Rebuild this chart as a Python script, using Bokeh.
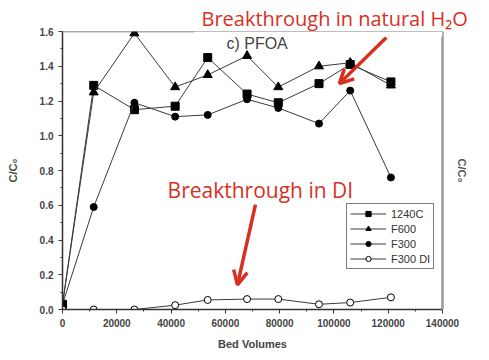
from bokeh.plotting import figure
from bokeh.models import (Range1d, FixedTicker, LinearAxis, Span, Label, Arrow,
                          OpenHead, Legend, BoxAnnotation, PrintfTickFormatter)
from bokeh.embed import file_html
from bokeh.resources import INLINE

# ---- data ----
bed_volumes = [0, 11500, 26500, 41500, 53500, 68000, 79500, 94500, 106000, 121000]
c1240 = [0.03, 1.29, 1.15, 1.17, 1.45, 1.24, 1.19, 1.30, 1.41, 1.31]
f600 = [0.03, 1.25, 1.59, 1.28, 1.35, 1.46, 1.28, 1.40, 1.42, 1.29]
f300 = [0.03, 0.59, 1.19, 1.11, 1.12, 1.21, 1.16, 1.07, 1.26, 0.76]
f300_di = [0.0, 0.0, 0.0, 0.025, 0.055, 0.06, 0.06, 0.03, 0.04, 0.07]
series_names = ["1240C", "F600", "F300", "F300 DI"]

x_ticks = [0, 20000, 40000, 60000, 80000, 100000, 120000, 140000]
x_minor = [10000, 30000, 50000, 70000, 90000, 110000, 130000]
y_ticks = [0.0, 0.2, 0.4, 0.6, 0.8, 1.0, 1.2, 1.4, 1.6]
y_minor = [0.1, 0.3, 0.5, 0.7, 0.9, 1.1, 1.3, 1.5]

panel_title = "c) PFOA"
note_natural = "Breakthrough in natural H\u2082O"
note_di = "Breakthrough in DI"
# arrow ends (data coords)
arrow_natural = (119300, 1.566, 102000, 1.30)
arrow_di = (71100, 0.604, 64450, 0.142)

RED = "#D7301F"
INK = "#333333"
FONT = "Liberation Sans"

p = figure(width=473, height=352, output_backend="svg", toolbar_location=None,
           x_range=Range1d(0, 140000), y_range=Range1d(0, 1.6),
           min_border_left=62, min_border_right=31, min_border_top=31,
           min_border_bottom=40)
p.outline_line_color = None
p.grid.visible = False
p.background_fill_color = "white"

# red note drawn as the title, above the frame
p.title.text = note_natural
p.title.align = "left"
p.title.offset = 139
p.title.text_font = "Open Sans"
p.title.text_font_size = "20px"
p.title.text_font_style = "normal"
p.title.text_color = RED
p.title.standoff = 0

# top frame line, partly hidden by the white box of the note
p.add_layout(Span(location=1.6, dimension="width", line_color="#555555", line_width=1.5))
p.add_layout(BoxAnnotation(left=48500, bottom=1.57, fill_color="white", fill_alpha=1,
                           line_color=None, level="overlay"))

for ax in (p.xaxis[0], p.yaxis[0]):
    ax.axis_line_color = INK
    ax.axis_line_width = 1.5
    ax.major_tick_line_color = INK
    ax.minor_tick_line_color = INK
    ax.major_tick_out = 4
    ax.major_tick_in = 0
    ax.minor_tick_out = 2
    ax.minor_tick_in = 0
    ax.major_label_text_font = FONT
    ax.major_label_text_font_size = "10px"
    ax.major_label_text_font_style = "bold"
    ax.major_label_text_color = "#444444"
    ax.axis_label_text_font = FONT
    ax.axis_label_text_font_size = "11px"
    ax.axis_label_text_font_style = "bold"
    ax.axis_label_text_color = "#444444"

p.xaxis[0].ticker = FixedTicker(ticks=x_ticks, minor_ticks=x_minor)
p.yaxis[0].ticker = FixedTicker(ticks=y_ticks, minor_ticks=y_minor)
p.xaxis[0].formatter.use_scientific = False
p.yaxis[0].formatter = PrintfTickFormatter(format="%.1f")
p.xaxis[0].axis_label = "Bed Volumes"
p.xaxis[0].axis_label_standoff = 8
p.yaxis[0].axis_label = "C/C\u2080"
p.yaxis[0].axis_label_standoff = 18

right = LinearAxis(axis_label="C/C\u2080", ticker=FixedTicker(ticks=[]))
right.axis_line_color = "#999999"
right.axis_line_width = 2.5
right.major_tick_line_color = None
right.minor_tick_line_color = None
right.major_label_text_font_size = "0px"
right.axis_label_text_font = FONT
right.axis_label_text_font_size = "11px"
right.axis_label_text_font_style = "bold"
right.axis_label_text_color = "#555555"
right.axis_label_standoff = 13
p.add_layout(right, "right")

LINE = "#3a3a3a"
items = []
specs = [
    (c1240, "square", "black", 8),
    (f600, "triangle", "black", 9),
    (f300, "circle", "black", 7),
    (f300_di, "circle", "white", 7),
]
for name, (ys, marker, fill, size) in zip(series_names, specs):
    r1 = p.line(bed_volumes, ys, line_color=LINE, line_width=1)
    r2 = p.scatter(bed_volumes, ys, marker=marker, size=size, fill_color=fill,
                   line_color="black", line_width=1)
    items.append((name, [r1, r2]))

legend = Legend(items=items, location=(284, 40))
legend.border_line_color = "black"
legend.border_line_width = 1
legend.background_fill_color = "white"
legend.background_fill_alpha = 1
legend.padding = 3
legend.spacing = 2
legend.margin = 0
legend.glyph_height = 13
legend.glyph_width = 36
legend.label_height = 13
legend.label_standoff = 5
legend.label_text_font = FONT
legend.label_text_font_size = "11px"
legend.label_text_color = "#333333"
p.add_layout(legend, "center")

p.add_layout(Label(x=60400, y=1.53, text=panel_title, text_font=FONT,
                   text_font_size="16px", text_color="#444444",
                   text_baseline="middle"))

p.add_layout(Label(x=36500, y=0.69, text=note_di, text_font="Open Sans",
                   text_font_size="21px", text_color=RED, text_baseline="middle",
                   background_fill_color="white", padding=6))

for (x0, y0, x1, y1) in (arrow_natural, arrow_di):
    p.add_layout(Arrow(x_start=x0, y_start=y0, x_end=x1, y_end=y1,
                       line_color=RED, line_width=3.5,
                       end=OpenHead(size=14, line_color=RED, line_width=3.5)))

open("out.html", "w").write(file_html(p, INLINE))
